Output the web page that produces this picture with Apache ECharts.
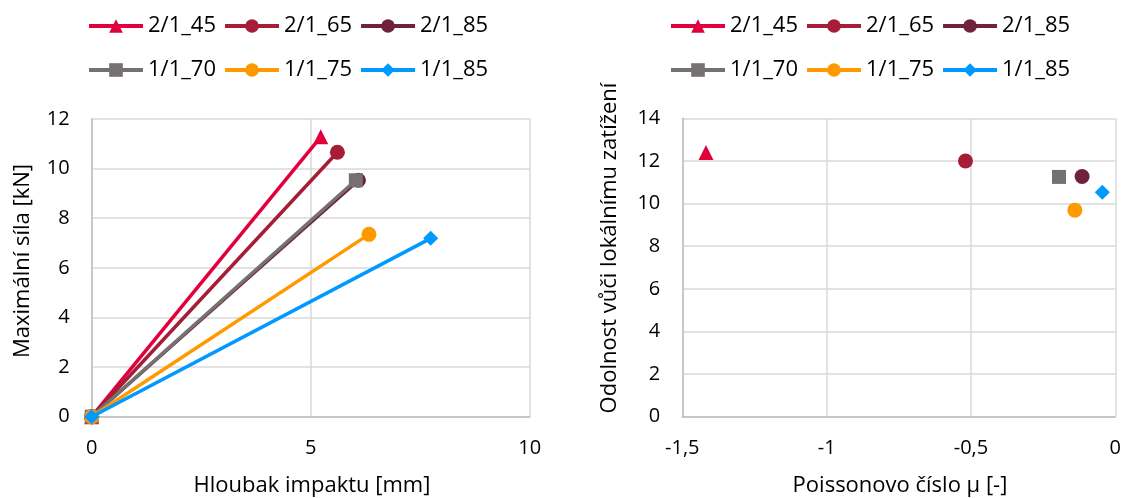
<!DOCTYPE html>
<html>
<head>
<meta charset="utf-8">
<script src="https://cdn.jsdelivr.net/npm/echarts@6/dist/echarts.min.js"></script>
<style>
html,body{margin:0;padding:0;background:#fff;}
#chart{width:1124px;height:498px;}
</style>
</head>
<body>
<div id="chart"></div>
<script>
// ---- data ----
const seriesNames = ['2/1_45', '2/1_65', '2/1_85', '1/1_70', '1/1_75', '1/1_85'];
const impactDepth = [5.23, 5.61, 6.09, 6.03, 6.33, 7.74];     // mm
const maxForce = [11.28, 10.66, 9.53, 9.53, 7.35, 7.19];       // kN
const poissonRatio = [-1.418, -0.519, -0.115, -0.195, -0.14, -0.045];
const localResistance = [12.4, 12.0, 11.27, 11.25, 9.69, 10.53];
const leftXTicks = [0, 5, 10];
const leftYTicks = [0, 2, 4, 6, 8, 10, 12];
const rightXTicks = [-1.5, -1, -0.5, 0];
const rightYTicks = [0, 2, 4, 6, 8, 10, 12, 14];
const leftXTitle = 'Hloubak impaktu [mm]';
const leftYTitle = 'Maximální síla [kN]';
const rightXTitle = 'Poissonovo číslo μ [-]';
const rightYTitle = 'Odolnost vůči lokálnímu zatížení';

// ---- styles ----
const colors = ['#E2003C', '#A51D36', '#70213D', '#767171', '#FF9900', '#0099FF'];
const symbols = ['triangle', 'circle', 'circle', 'rect', 'circle', 'diamond'];
const symbolSizes = [15, 15, 15, 14, 15, 15];
const FONT = 'Open Sans';

const fmt = v => String(v).replace('.', ',');

function makeAxis(gridIndex, ticks) {
  return {
    type: 'value', gridIndex,
    min: ticks[0], max: ticks[ticks.length - 1], interval: ticks[1] - ticks[0],
    axisLine: { show: true, onZero: false, lineStyle: { color: '#BFBFBF', width: 1.5 } },
    axisTick: { show: false },
    splitLine: { show: true, lineStyle: { color: '#D9D9D9', width: 1.5 } },
    axisLabel: { formatter: fmt, fontFamily: FONT, fontSize: 20, color: '#000', margin: 22 }
  };
}

const series = [];
seriesNames.forEach((n, i) => {
  series.push({
    name: n, type: 'line', xAxisIndex: 0, yAxisIndex: 0,
    data: [[0, 0], [impactDepth[i], maxForce[i]]],
    symbol: symbols[i], symbolSize: symbolSizes[i],
    lineStyle: { color: colors[i], width: 3.5 },
    itemStyle: { color: colors[i] },
    z: 2 + i
  });
});
seriesNames.forEach((n, i) => {
  series.push({
    name: n, type: 'line', xAxisIndex: 1, yAxisIndex: 1,
    data: [[poissonRatio[i], localResistance[i]]],
    symbol: symbols[i], symbolSize: symbolSizes[i],
    lineStyle: { color: colors[i], width: 3.5 },
    itemStyle: { color: colors[i] },
    z: 2 + i
  });
});

function legend(data, left, top) {
  return {
    data, left, top, padding: 0, itemWidth: 54, itemHeight: 17, itemGap: 7,
    lineStyle: { width: 4 },
    textStyle: { fontFamily: FONT, fontSize: 22, color: '#000' },
    selectedMode: false
  };
}

const titleStyle = { fontFamily: FONT, fontSize: 22, fill: '#000', textAlign: 'center', textVerticalAlign: 'middle' };

const option = {
  animation: false,
  backgroundColor: '#fff',
  grid: [
    { left: 91.7, top: 119, width: 438, height: 297.7 },
    { left: 682.3, top: 118.3, width: 436.7, height: 298.4 }
  ],
  xAxis: [makeAxis(0, leftXTicks), makeAxis(1, rightXTicks)],
  yAxis: [makeAxis(0, leftYTicks), makeAxis(1, rightYTicks)],
  legend: [
    legend(seriesNames.slice(0, 3), 87, 15),
    legend(seriesNames.slice(3), 87, 59),
    legend(seriesNames.slice(0, 3), 669, 15),
    legend(seriesNames.slice(3), 669, 59)
  ],
  graphic: [
    { type: 'text', x: 312, y: 486, style: Object.assign({ text: leftXTitle }, titleStyle) },
    { type: 'text', x: 900, y: 486, style: Object.assign({ text: rightXTitle }, titleStyle) },
    { type: 'text', x: 23, y: 261, rotation: Math.PI / 2, style: Object.assign({ text: leftYTitle }, titleStyle) },
    { type: 'text', x: 610, y: 248, rotation: Math.PI / 2, style: Object.assign({ text: rightYTitle }, titleStyle) }
  ],
  series
};

const chart = echarts.init(document.getElementById('chart'), null, { renderer: 'canvas' });
chart.setOption(option);
</script>
</body>
</html>
